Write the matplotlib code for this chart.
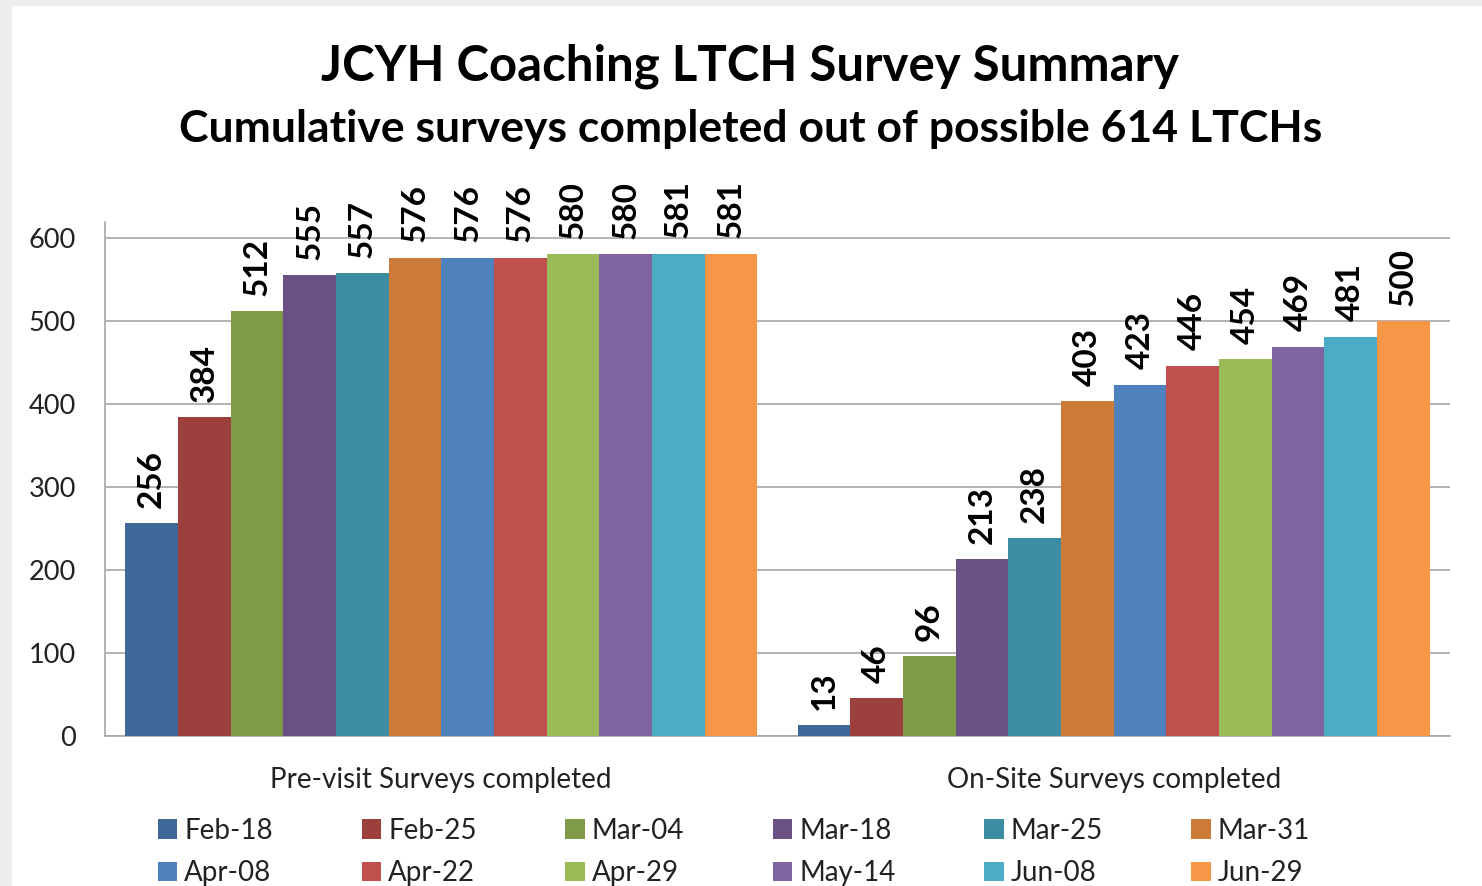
import numpy as np
import matplotlib.pyplot as plt
from matplotlib.patches import Rectangle

# data
categories = ['Pre-visit Surveys completed', 'On-Site Surveys completed']
dates = ['Feb-18', 'Feb-25', 'Mar-04', 'Mar-18', 'Mar-25', 'Mar-31',
         'Apr-08', 'Apr-22', 'Apr-29', 'May-14', 'Jun-08', 'Jun-29']
pre_visit = [256, 384, 512, 555, 557, 576, 576, 576, 580, 580, 581, 581]
on_site = [13, 46, 96, 213, 238, 403, 423, 446, 454, 469, 481, 500]
colors = ['#3F6797', '#9D3F3D', '#7F9A48', '#6A5085', '#3C8CA2', '#CC7B38',
          '#4F81BD', '#C0504D', '#9BBB59', '#8064A2', '#4BACC6', '#F79646']

plt.rcParams['font.family'] = ['Lato', 'DejaVu Sans']

W, H = 1482, 886
fig = plt.figure(figsize=(W / 100, H / 100), dpi=100, facecolor='#eeeeee')
fig.patches.append(Rectangle((12 / W, 0), 1, 1 - 6 / H, transform=fig.transFigure,
                             facecolor='white', edgecolor='none', zorder=-10))

ax = fig.add_axes([105 / W, 1 - 736 / H, (1450 - 105) / W, (736 - 222) / H])
ax.set_facecolor('none')

n = len(dates)
group_w = 0.94
bw = group_w / n
x = np.arange(len(categories))

handles = []
for i, d in enumerate(dates):
    vals = [pre_visit[i], on_site[i]]
    pos = x - group_w / 2 + bw * (i + 0.5)
    bars = ax.bar(pos, vals, width=bw, color=colors[i], label=d, zorder=3)
    handles.append(bars)
    for p, v in zip(pos, vals):
        ax.annotate(str(v), (p, v), xytext=(0, 11), textcoords='offset points',
                    ha='center', va='bottom', rotation=90, fontsize=24,
                    fontweight='bold', color='black', annotation_clip=False)

ax.set_xlim(-0.5, 1.5)
ax.set_ylim(0, 619)
ax.set_yticks(range(0, 601, 100))
ax.yaxis.grid(True, color='#a6a6a6', linewidth=1.2, zorder=0)
ax.set_xticks(x)
ax.set_xticklabels(categories, fontsize=20, color='#222222')
ax.tick_params(axis='x', length=0, pad=22)
ax.tick_params(axis='y', length=0, pad=21, labelsize=19.5, labelcolor='#222222')
for lab in ax.get_yticklabels():
    lab.set_horizontalalignment('right')
for s in ['top', 'right']:
    ax.spines[s].set_visible(False)
for s in ['left', 'bottom']:
    ax.spines[s].set_color('#a6a6a6')
    ax.spines[s].set_linewidth(1.2)

fig.text(750 / W, 1 - 66 / H, 'JCYH Coaching LTCH Survey Summary',
         ha='center', va='center', fontsize=35.4, fontweight='bold')
fig.text(751 / W, 1 - 129 / H, 'Cumulative surveys completed out of possible 614 LTCHs',
         ha='center', va='center', fontsize=32, fontweight='bold')

# row-major legend order
order = [r * 6 + c for c in range(6) for r in range(2)]
leg = fig.legend([handles[k] for k in order], [dates[k] for k in order],
                 ncol=6, loc='center', mode='expand',
                 bbox_to_anchor=(158 / W, 1 - 902 / H, 1152 / W, 100 / H),
                 frameon=False, fontsize=20, handlelength=0.7, handleheight=0.7,
                 handletextpad=0.25, labelspacing=0.6, borderaxespad=0,
                 borderpad=0)
for t in leg.get_texts():
    t.set_color('#222222')

fig.savefig('out.png', dpi=100, facecolor=fig.get_facecolor())
